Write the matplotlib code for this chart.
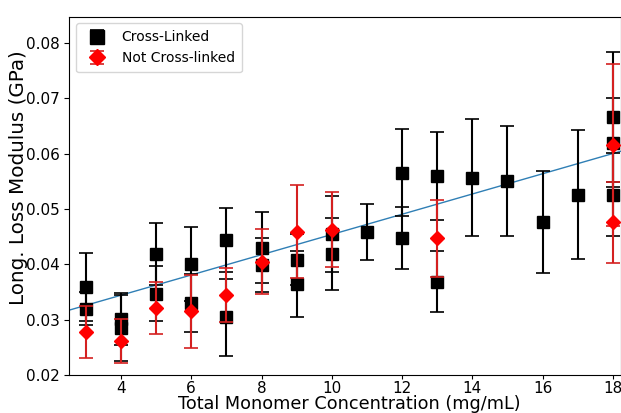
import numpy as np
import matplotlib
matplotlib.use("Agg")
import matplotlib.pyplot as plt

# cross-linked samples (several runs per concentration)
x_cl = [3, 3, 4, 4, 5, 5, 6, 6, 7, 7, 8, 8, 9, 9, 10, 10, 11, 12, 12, 13, 13, 14, 15, 16, 17, 18, 18, 18]
y_cl = [0.0359, 0.0320, 0.0302, 0.0285, 0.0418, 0.0347, 0.0400, 0.0330, 0.0444, 0.0304,
        0.0430, 0.0399, 0.0408, 0.0365, 0.0455, 0.0418, 0.0459, 0.0566, 0.0447, 0.0560,
        0.0369, 0.0557, 0.0551, 0.0476, 0.0526, 0.0666, 0.0620, 0.0526]
err_cl = [0.0062, 0.0030, 0.0047, 0.0060, 0.0056, 0.0050, 0.0067, 0.0052, 0.0058, 0.0069,
          0.0064, 0.0049, 0.0046, 0.0060, 0.0068, 0.0065, 0.0051, 0.0079, 0.0056, 0.0079,
          0.0056, 0.0106, 0.0100, 0.0092, 0.0117, 0.0118, 0.0080, 0.0075]

# not cross-linked samples
x_ncl = [3, 4, 5, 6, 7, 8, 9, 10, 13, 18, 18]
y_ncl = [0.0277, 0.0262, 0.0322, 0.0315, 0.0344, 0.0405, 0.0459, 0.0463, 0.0447, 0.0616, 0.0476]
err_ncl = [0.0047, 0.0040, 0.0047, 0.0066, 0.0049, 0.0059, 0.0084, 0.0067, 0.0069, 0.0146, 0.0073]

# linear fit: modulus = slope*conc + intercept
fit_slope = 0.00183
fit_intercept = 0.0271

fig = plt.figure(figsize=(6.21, 4.13), dpi=100)
ax = fig.add_axes([0.111, 0.092, 0.889, 0.868])

xfit = np.linspace(2, 19, 50)
ax.plot(xfit, fit_slope*xfit + fit_intercept, color='#2f7fb5', lw=1, zorder=1)

ax.errorbar(x_cl, y_cl, yerr=err_cl, fmt='s', color='black', ms=9,
            elinewidth=1.5, capsize=5, capthick=1.2, label='Cross-Linked', zorder=2)
ax.errorbar(x_ncl, y_ncl, yerr=err_ncl, fmt='D', color='red', ecolor='#d42020', ms=7.5,
            elinewidth=1.5, capsize=5, capthick=1.2, label='Not Cross-linked', zorder=3)

ax.set_xlim(2.52, 18.23)
ax.set_ylim(0.02, 0.0848)
ax.set_xticks(range(4, 19, 2))
ax.set_yticks([0.02, 0.03, 0.04, 0.05, 0.06, 0.07, 0.08])
ax.tick_params(axis='y', labelsize=11, pad=3)
ax.tick_params(axis='x', labelsize=11, length=3, pad=1)
ax.set_xlabel("Total Monomer Concentration (mg/mL)", fontsize=12.7)
ax.set_ylabel("Long. Loss Modulus (GPa)", fontsize=14.3)
ax.xaxis.set_label_coords(0.507, -0.056)
ax.yaxis.set_label_coords(-0.092, 0.55)
ax.yaxis.label.set_va('center')
ax.legend(loc='upper left', fontsize=10, handletextpad=0.8, borderpad=0.5,
          markerscale=1.1, bbox_to_anchor=(0.0, 1.0))

fig.savefig("out.png", dpi=100)
